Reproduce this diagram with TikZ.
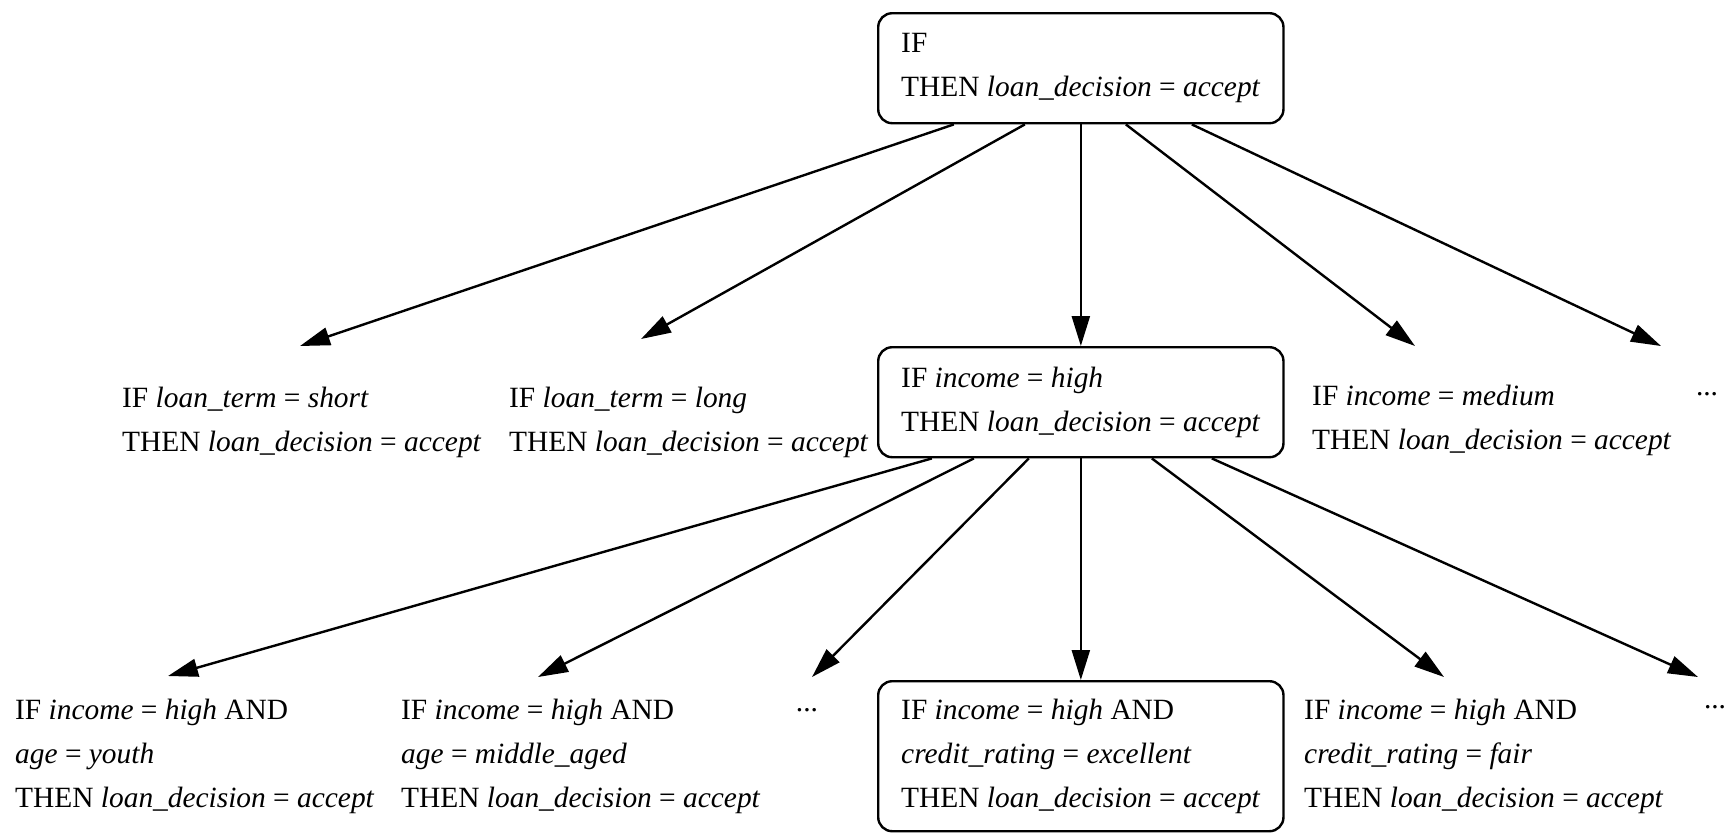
\documentclass[tikz,border=0pt]{standalone}
\usepackage{fontspec}
\setmainfont{Liberation Serif}
\usetikzlibrary{arrows.meta,calc}

\tikzset{every picture/.style={line width=1.2pt}}

\begin{document}
\begin{tikzpicture}[x=0.5pt,y=0.5pt,yscale=-1,xscale=1,
	rule/.style={anchor=north west,inner sep=0pt,align=left,font=\fontsize{14.7}{22}\selectfont},
	rulebox/.style={rule,draw,rounded corners=7pt,inner xsep=11.5pt,inner ysep=0pt},
	arr/.style={-{Triangle[length=15pt,width=9pt]}}]
	\useasboundingbox (0,0) rectangle (1732,832);

	%Shape: Rounded box [id:top]
	\node[rulebox,minimum height=55pt] (top) at (877,12) {IF\\THEN \textit{loan\_decision} = \textit{accept}};
	%Shape: Rounded box [id:high]
	\node[rulebox,minimum height=55pt] (high) at (877,346) {IF \textit{income} = \textit{high}\\THEN \textit{loan\_decision} = \textit{accept}};
	%Shape: Rounded box [id:excellent]
	\node[rulebox,minimum height=75pt] (excellent) at (877,680) {IF \textit{income} = \textit{high} AND\\\textit{credit\_rating} = \textit{excellent}\\THEN \textit{loan\_decision} = \textit{accept}};

	% Text Node
	\node[rule] (short) at (121,386) {IF \textit{loan\_term} = \textit{short}\\THEN \textit{loan\_decision} = \textit{accept}};
	% Text Node
	\node[rule] (long) at (508,386) {IF \textit{loan\_term} = \textit{long}\\THEN \textit{loan\_decision} = \textit{accept}};
	% Text Node
	\node[rule] (medium) at (1311,384) {IF \textit{income} = \textit{medium}\\THEN \textit{loan\_decision} = \textit{accept}};
	% Text Node
	\node[rule,anchor=center] (more) at (1707,394) {...};
	% Text Node
	\node[rule] (youth) at (14,698) {IF \textit{income} = \textit{high} AND\\\textit{age} = \textit{youth}\\THEN \textit{loan\_decision} = \textit{accept}};
	% Text Node
	\node[rule] (middle) at (400,698) {IF \textit{income} = \textit{high} AND\\\textit{age} = \textit{middle\_aged}\\THEN \textit{loan\_decision} = \textit{accept}};
	% Text Node
	\node[rule,anchor=center] (moreA) at (807,710) {...};
	% Text Node
	\node[rule] (fair) at (1303,698) {IF \textit{income} = \textit{high} AND\\\textit{credit\_rating} = \textit{fair}\\THEN \textit{loan\_decision} = \textit{accept}};
	% Text Node
	\node[rule,anchor=center] (moreB) at (1715,707) {...};

	%Arrow tips
	\coordinate (shortTip) at (300,346);
	\coordinate (longTip) at (641,339);
	\coordinate (mediumTip) at (1415,346);
	\coordinate (moreTip) at (1661,346);
	\coordinate (youthTip) at (168,676);
	\coordinate (middleTip) at (538,677);
	\coordinate (moreATip) at (812,677);
	\coordinate (fairTip) at (1444,677);
	\coordinate (moreBTip) at (1698,677);

	%Straight Lines [id:top]
	\draw[arr] ($(top.south)+(-127,0)$) -- (shortTip);
	\draw[arr] ($(top.south)+(-56,0)$) -- (longTip);
	\draw[arr] (top.south) -- (high.north);
	\draw[arr] ($(top.south)+(45,0)$) -- (mediumTip);
	\draw[arr] ($(top.south)+(111,0)$) -- (moreTip);
	%Straight Lines [id:high]
	\draw[arr] ($(high.south)+(-149,0)$) -- (youthTip);
	\draw[arr] ($(high.south)+(-107,0)$) -- (middleTip);
	\draw[arr] ($(high.south)+(-52,0)$) -- (moreATip);
	\draw[arr] (high.south) -- (excellent.north);
	\draw[arr] ($(high.south)+(71,0)$) -- (fairTip);
	\draw[arr] ($(high.south)+(131,0)$) -- (moreBTip);

\end{tikzpicture}
\end{document}
